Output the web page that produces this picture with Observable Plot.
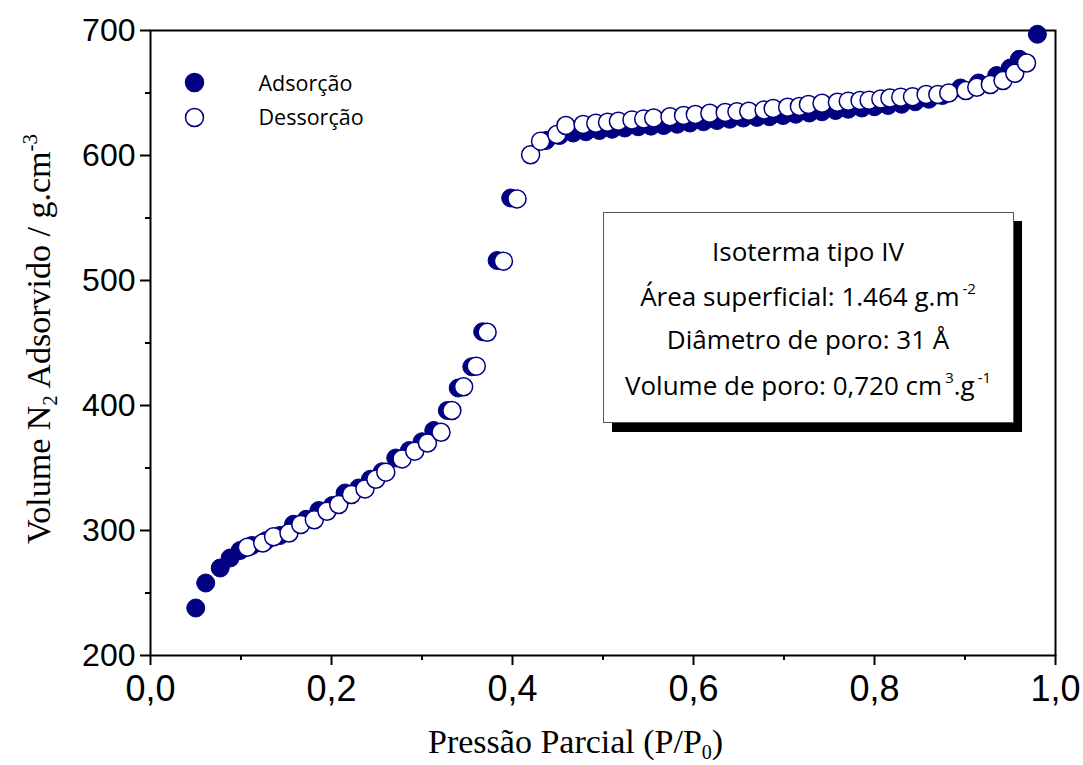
<!DOCTYPE html>
<html><head><meta charset="utf-8">
<script src="https://cdn.jsdelivr.net/npm/d3@7"></script>
<script src="https://cdn.jsdelivr.net/npm/@observablehq/plot@0.6"></script>
<style>
html,body{margin:0;padding:0;background:#fff;}
</style>
</head><body><div id="chart"></div>
<script>
// ---- data ----
const adsP = [0.050,0.061,0.077,0.088,0.099,0.112,0.128,0.143,0.158,0.172,0.186,0.201,0.215,0.230,0.243,0.256,0.271,0.286,0.300,0.313,0.328,0.340,0.355,0.367,0.383,0.398,0.437,0.452,0.467,0.481,0.496,0.510,0.524,0.539,0.553,0.567,0.582,0.596,0.611,0.626,0.640,0.655,0.670,0.684,0.699,0.713,0.728,0.742,0.757,0.771,0.786,0.800,0.815,0.830,0.845,0.860,0.875,0.895,0.915,0.935,0.950,0.960,0.980];
const adsV = [238,258,270,278,284,288,292,296,305,309,316,320,330,334,341,347,358,364,371,380,396,414,431,459,516,566,612,616,618,619,620,621,622,623,623.5,624,625,626,627,628,629,630,630.5,631,632,633,634,635,636,637,638,639,640,641,643,645,648,654,658,664,670,677,697];
const desP = [0.107,0.124,0.136,0.153,0.166,0.181,0.195,0.208,0.222,0.237,0.249,0.260,0.278,0.292,0.306,0.321,0.333,0.346,0.360,0.372,0.390,0.405,0.420,0.431,0.449,0.459,0.478,0.492,0.505,0.517,0.532,0.545,0.556,0.574,0.589,0.602,0.618,0.635,0.648,0.661,0.678,0.688,0.704,0.717,0.727,0.742,0.759,0.771,0.784,0.794,0.807,0.817,0.829,0.842,0.857,0.870,0.882,0.901,0.913,0.928,0.942,0.955,0.968];
const desV = [286.6,290,295,298,304.8,308.6,315.4,320.8,328.8,333.3,341,346.7,357.3,363.5,370,378.6,396,415,431.5,458.6,515.5,565.3,600.6,611.5,616.8,624,624.8,625.8,626.6,627.4,628.5,629.3,630,631,632,632.8,633.8,634.4,635,635.4,636.5,637.6,638.6,639.2,640.8,641.8,642.6,643.5,644,644.3,645.3,646,646.7,647,648.8,648.8,650,652,654.6,656.8,660,665.8,674];
const seriesNames = ["Adsorção","Dessorção"];
const xTicks = [0,0.2,0.4,0.6,0.8,1.0];
const xTickLabels = ["0,0","0,2","0,4","0,6","0,8","1,0"];
const xMinor = [0.1,0.3,0.5,0.7,0.9];
const yTicks = [200,300,400,500,600,700];
const yMinor = [250,350,450,550,650];
const infoLines = [
  [["Isoterma tipo IV",""]],
  [["Área superficial: 1.464 g.m",""],["-2","sup"]],
  [["Diâmetro de poro: 31 Å",""]],
  [["Volume de poro: 0,720 cm",""],["3","sup"],[".g",""],["-1","sup"]]
];

const ads = adsP.map((p,i)=>({p, v: adsV[i]}));
const des = desP.map((p,i)=>({p, v: desV[i]}));
const navy = "#000080";

const plot = Plot.plot({
  width: 1083, height: 765,
  marginLeft: 150, marginRight: 28, marginTop: 30, marginBottom: 110,
  style: {background: "#fff", fontFamily: "'Liberation Sans', Arial, sans-serif", color: "#000"},
  x: {domain: [0, 1]},
  y: {domain: [200, 700]},
  marks: [
    Plot.axisX(xMinor, {tickSize: 5, strokeWidth: 2, tickFormat: () => "", label: null}),
    Plot.axisX(xTicks, {tickSize: 10, strokeWidth: 2, tickPadding: 10, tickFormat: d => xTickLabels[xTicks.indexOf(d)], fontSize: 36, label: null}),
    Plot.axisY(yMinor, {tickSize: 5, strokeWidth: 2, tickFormat: () => "", label: null}),
    Plot.axisY(yTicks, {tickSize: 10, strokeWidth: 2, tickPadding: 5, fontSize: 32, label: null}),
    Plot.frame({stroke: "#000", strokeWidth: 2}),
    Plot.dot(ads, {x: "p", y: "v", r: 9, fill: navy, stroke: navy, strokeWidth: 1}),
    Plot.dot(des, {x: "p", y: "v", r: 9, fill: "#fff", stroke: navy, strokeWidth: 1.5}),
    Plot.dot([seriesNames[0]], {frameAnchor: "top-left", dx: 44, dy: 52, r: 9, fill: navy, stroke: navy}),
    Plot.dot([seriesNames[1]], {frameAnchor: "top-left", dx: 44, dy: 87, r: 9, fill: "#fff", stroke: navy, strokeWidth: 1.5}),
    Plot.text([seriesNames[0]], {frameAnchor: "top-left", dx: 108, dy: 53.5, textAnchor: "start", lineAnchor: "middle", fontSize: 21.5, fontFamily: "'Open Sans', sans-serif", fill: "#000"}),
    Plot.text([seriesNames[1]], {frameAnchor: "top-left", dx: 108, dy: 88, textAnchor: "start", lineAnchor: "middle", fontSize: 21.5, fontFamily: "'Open Sans', sans-serif", fill: "#000"})
  ]
});

const svg = d3.select(plot);
// axis titles
const yt = svg.append("text")
  .attr("transform", "translate(50,339) rotate(-90)")
  .attr("text-anchor", "middle")
  .attr("font-family", "'Liberation Serif', 'Times New Roman', serif")
  .attr("font-size", 34).attr("fill", "#000");
yt.append("tspan").text("Volume N");
yt.append("tspan").attr("font-size", 21).attr("dy", 7).text("2");
yt.append("tspan").attr("dy", -7).text(" Adsorvido / g.cm");
yt.append("tspan").attr("font-size", 21).attr("dy", -13).text("-3");

const xt = svg.append("text")
  .attr("x", 428).attr("y", 753)
  .attr("text-anchor", "start")
  .attr("font-family", "'Liberation Serif', 'Times New Roman', serif")
  .attr("font-size", 34).attr("fill", "#000");
xt.append("tspan").text("Pressão Parcial (P/P");
xt.append("tspan").attr("font-size", 20).attr("dy", 6).text("0");
xt.append("tspan").attr("dy", -6).text(")");

// info box
const g = svg.append("g");
g.append("rect").attr("x", 612).attr("y", 221).attr("width", 410).attr("height", 211).attr("fill", "#000");
g.append("rect").attr("x", 603.5).attr("y", 212.5).attr("width", 410).attr("height", 210).attr("fill", "#fff").attr("stroke", "#555").attr("stroke-width", 1);
const baselines = [261, 306, 349, 395];
infoLines.forEach((parts, i) => {
  const t = g.append("text").attr("x", 808).attr("y", baselines[i])
    .attr("text-anchor", "middle")
    .attr("font-family", "'Open Sans', sans-serif")
    .attr("font-size", 26).attr("fill", "#000");
  let shift = 0;
  parts.forEach(([s, kind]) => {
    const ts = t.append("tspan").text(s);
    if (kind === "sup") { ts.attr("font-size", 15).attr("dx", 3).attr("dy", -12 - shift); shift = -12; }
    else { ts.attr("dy", -shift); shift = 0; }
  });
});

document.getElementById("chart").appendChild(plot);
</script>
</body></html>
